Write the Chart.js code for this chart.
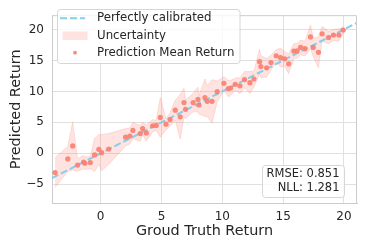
<!DOCTYPE html>
<html>
<head>
<meta charset="utf-8">
<script src="https://cdn.jsdelivr.net/npm/chart.js@4.4.1/dist/chart.umd.min.js"></script>
<style>
  html, body { margin: 0; padding: 0; background: #ffffff; }
  #wrap { width: 366px; height: 250px; }
</style>
</head>
<body>
<div id="wrap"><canvas id="c" width="366" height="250"></canvas></div>
<script>
// ---- data ----
const groundTruth = [-3.75,-2.7,-2.3,-1.9,-1.4,-1.3,-0.85,-0.5,-0.15,0.08,0.66,2.05,2.4,2.65,3.25,3.45,3.75,4.27,4.57,4.9,5.37,5.7,6.13,6.54,6.85,6.98,7.6,8.0,8.08,8.57,8.76,9.15,9.58,10.13,10.49,10.68,11.06,11.45,11.83,12.27,12.6,13.06,13.17,13.64,14.0,14.43,14.79,15.12,15.45,15.88,16.15,16.43,16.79,17.25,17.47,17.9,18.2,18.73,19.14,19.58,19.94];
const predictedMean = [-3.1,-0.9,1.2,-1.9,-1.4,-1.6,-1.5,-0.25,0.65,0.1,0.7,2.6,2.8,3.7,3.2,4.0,3.3,4.45,4.5,5.8,4.7,5.45,6.97,5.9,8.2,7.1,8.2,8.7,7.8,9.0,8.4,8.4,9.95,11.3,10.45,10.55,11.15,10.9,11.9,11.4,12.0,14.8,14.0,13.8,14.65,15.75,15.45,15.25,14.45,16.5,16.55,17.1,16.9,18.8,17.1,16.3,19.3,18.7,19.1,19.1,19.9];
const predictedStd = [2.4,2.0,3.9,1.0,1.1,1.0,1.0,2.7,2.4,2.9,2.5,1.4,1.3,1.3,1.3,1.0,1.3,1.0,0.8,3.2,0.9,1.1,1.6,3.6,2.3,1.5,1.5,2.0,1.5,3.0,2.5,3.5,1.7,1.1,1.3,1.2,1.0,1.3,1.3,1.8,1.3,2.0,1.8,1.5,1.2,1.0,1.5,1.2,1.6,1.2,1.2,1.2,1.2,1.9,1.5,2.5,1.2,1.0,0.9,1.0,0.5];
const calibratedLine = [-4.0, 21.1];
const xTicks = [0, 5, 10, 15, 20];
const yTicks = [-5, 0, 5, 10, 15, 20];
const legendLabels = ['Perfectly calibrated', 'Uncertainty', 'Prediction Mean Return'];
const statsLines = ['RMSE: 0.851', 'NLL: 1.281'];
const xTitle = 'Groud Truth Return';
const yTitle = 'Predicted Return';

// ---- styles ----
const FONT = "'DejaVu Sans', sans-serif";
const TEXT = '#262626';
const POINT = 'rgba(250,128,114,0.92)';
const BAND = 'rgba(250,128,114,0.22)';
const BAND_EDGE = 'rgba(250,128,114,0.28)';
const LINE = '#87ceeb';

const pointData = groundTruth.map((x, i) => ({x, y: predictedMean[i]}));
const upperData = groundTruth.map((x, i) => ({x, y: predictedMean[i] + predictedStd[i]}));
const lowerData = groundTruth.map((x, i) => ({x, y: predictedMean[i] - predictedStd[i]}));
const lineData = calibratedLine.map(v => ({x: v, y: v}));

function roundRect(ctx, x, y, w, h, r) {
  ctx.beginPath();
  ctx.moveTo(x + r, y);
  ctx.lineTo(x + w - r, y);
  ctx.arcTo(x + w, y, x + w, y + r, r);
  ctx.lineTo(x + w, y + h - r);
  ctx.arcTo(x + w, y + h, x + w - r, y + h, r);
  ctx.lineTo(x + r, y + h);
  ctx.arcTo(x, y + h, x, y + h - r, r);
  ctx.lineTo(x, y + r);
  ctx.arcTo(x, y, x + r, y, r);
  ctx.closePath();
}

const overlay = {
  id: 'overlay',
  afterDatasetsDraw(chart) {
    const {ctx, chartArea: a} = chart;
    ctx.save();
    // top / right spines
    ctx.strokeStyle = '#cccccc';
    ctx.lineWidth = 1;
    ctx.beginPath();
    ctx.moveTo(a.left, a.top + 0.5);
    ctx.lineTo(a.right - 0.5, a.top + 0.5);
    ctx.lineTo(a.right - 0.5, a.bottom);
    ctx.stroke();

    // legend box
    const lx = 57.5, ly = 9.5, lw = 182.5, lh = 54;
    roundRect(ctx, lx, ly, lw, lh, 3);
    ctx.fillStyle = 'rgba(255,255,255,0.8)';
    ctx.fill();
    ctx.strokeStyle = '#d6d6d6';
    ctx.stroke();

    ctx.font = '11.8px ' + FONT;
    ctx.fillStyle = TEXT;
    ctx.textBaseline = 'middle';
    ctx.textAlign = 'left';
    const rows = [18.3, 35.5, 52.7];
    // handle 1: dashed line
    ctx.strokeStyle = LINE;
    ctx.lineWidth = 2;
    ctx.setLineDash([7, 3]);
    ctx.beginPath();
    ctx.moveTo(60, rows[0]);
    ctx.lineTo(85, rows[0]);
    ctx.stroke();
    ctx.setLineDash([]);
    // handle 2: band patch
    ctx.fillStyle = BAND;
    ctx.fillRect(62.5, 31.5, 25, 8.5);
    // handle 3: dot
    ctx.fillStyle = POINT;
    ctx.beginPath();
    ctx.arc(75, rows[2], 1.9, 0, Math.PI * 2);
    ctx.fill();
    ctx.fillStyle = TEXT;
    legendLabels.forEach((t, i) => ctx.fillText(t, 97, rows[i]));

    // stats box
    const bx = 262.5, by = 165.5, bw = 82, bh = 32;
    roundRect(ctx, bx, by, bw, bh, 3);
    ctx.fillStyle = 'rgba(255,255,255,0.8)';
    ctx.fill();
    ctx.strokeStyle = '#d6d6d6';
    ctx.lineWidth = 1;
    ctx.stroke();
    ctx.font = '11.5px ' + FONT;
    ctx.fillStyle = TEXT;
    ctx.textAlign = 'right';
    ctx.fillText(statsLines[0], 339.5, 174);
    ctx.fillText(statsLines[1], 339.5, 188);
    ctx.restore();
  }
};

new Chart(document.getElementById('c'), {
  type: 'line',
  data: {
    datasets: [
      { label: 'Prediction Mean Return', data: pointData, showLine: false,
        pointRadius: 2.6, pointBackgroundColor: POINT, pointBorderWidth: 0, borderColor: POINT },
      { label: 'Perfectly calibrated', data: lineData, borderColor: LINE, borderWidth: 2,
        borderDash: [7, 3], pointRadius: 0, fill: false },
      { label: 'upper', data: upperData, borderColor: BAND_EDGE, borderWidth: 0.8,
        pointRadius: 0, fill: false, tension: 0 },
      { label: 'Uncertainty', data: lowerData, borderColor: BAND_EDGE, borderWidth: 0.8,
        pointRadius: 0, fill: '-1', backgroundColor: BAND, tension: 0 }
    ]
  },
  options: {
    responsive: false,
    devicePixelRatio: 1,
    animation: false,
    layout: { padding: { left: 0, right: 9, top: 3, bottom: 0 } },
    plugins: { legend: { display: false }, tooltip: { enabled: false } },
    scales: {
      x: {
        type: 'linear', min: -4.0, max: 21.07,
        afterBuildTicks: s => { s.ticks = xTicks.map(v => ({value: v})); },
        afterFit: s => { s.height = 46.5; },
        grid: { color: '#e0e0e0', drawTicks: false },
        border: { display: true, color: '#cccccc' },
        ticks: { padding: 6, color: TEXT, font: { family: FONT, size: 12 },
                 callback: v => (v < 0 ? '\u2212' + Math.abs(v) : String(v)) },
        title: { display: true, text: xTitle, color: TEXT, font: { family: FONT, size: 14.4 },
                 padding: { top: 0, bottom: 9.6 } }
      },
      y: {
        type: 'linear', min: -8.1, max: 22.3,
        afterBuildTicks: s => { s.ticks = yTicks.map(v => ({value: v})); },
        afterFit: s => { s.width = 52; },
        grid: { color: '#e0e0e0', drawTicks: false },
        border: { display: true, color: '#cccccc' },
        ticks: { padding: 8, color: TEXT, font: { family: FONT, size: 12 },
                 callback: v => (v < 0 ? '\u2212' + Math.abs(v) : String(v)) },
        title: { display: true, text: yTitle, color: TEXT, font: { family: FONT, size: 14.4 },
                 padding: { top: 7.4, bottom: 0 } }
      }
    }
  },
  plugins: [overlay]
});
</script>
</body>
</html>
